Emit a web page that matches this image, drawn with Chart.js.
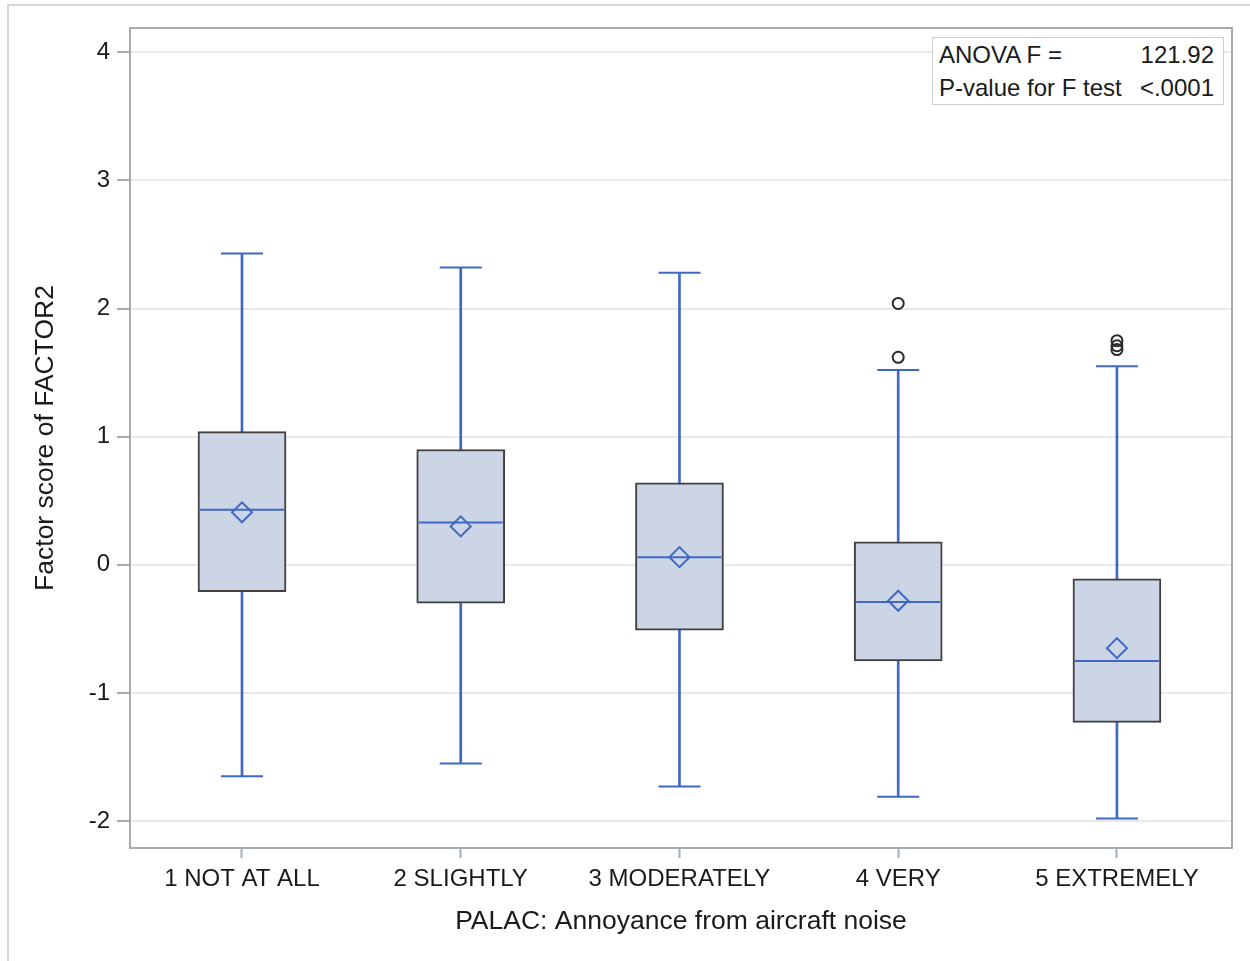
<!DOCTYPE html>
<html>
<head>
<meta charset="utf-8">
<script src="https://cdn.jsdelivr.net/npm/chart.js@4.4.1/dist/chart.umd.min.js"></script>
<style>
  body { margin: 0; background: #fff; font-family: "Liberation Sans", Arial, sans-serif; }
  #wrap { position: relative; width: 1250px; height: 961px; overflow: hidden; }
  #frame { position: absolute; left: 7px; top: 4px; width: 1400px; height: 1100px;
    border-top: 2px solid #d6d6d6; border-left: 2px solid #d6d6d6; }
  #inset { position: absolute; left: 932px; top: 37px; height: 66px;
    border: 1px solid #cfcfcf; background: #fff; font-size: 24px; color: #1a1a1a;
    padding: 0 9px 0 6px; box-sizing: content-box; width: 275px; }
  #inset div { display: flex; justify-content: space-between; line-height: 33px; height: 33px; }
  canvas { position: absolute; left: 0; top: 0; }
</style>
</head>
<body>
<div id="wrap">
  <div id="frame"></div>
  <canvas id="box-chart" width="1250" height="961"></canvas>
  <div id="inset">
    <div><span>ANOVA F =</span><span>121.92</span></div>
    <div><span>P-value for F test</span><span>&lt;.0001</span></div>
  </div>
</div>
<script>
// categories and box statistics
var categories = ["1 NOT AT ALL", "2 SLIGHTLY", "3 MODERATELY", "4 VERY", "5 EXTREMELY"];
var whiskerHigh = [2.43, 2.32, 2.28, 1.52, 1.55];
var q3 = [1.04, 0.90, 0.64, 0.18, -0.11];
var median = [0.43, 0.33, 0.06, -0.29, -0.75];
var mean = [0.41, 0.30, 0.06, -0.28, -0.65];
var q1 = [-0.21, -0.30, -0.51, -0.75, -1.23];
var whiskerLow = [-1.65, -1.55, -1.73, -1.81, -1.98];
// outliers
var outlierCats = ["4 VERY", "4 VERY", "5 EXTREMELY", "5 EXTREMELY", "5 EXTREMELY"];
var outlierValues = [2.04, 1.62, 1.75, 1.71, 1.68];
var yTicks = [-2, -1, 0, 1, 2, 3, 4];

var blue = "#3f68c6";
var axisGrey = "#a6abaf";
var font = "'Liberation Sans', Arial, sans-serif";

// x is the category index on a linear axis (so the margins match SAS)
function pts(values) {
  return values.map(function (v, i) { return { x: i, y: v }; });
}
var boxes = categories.map(function (c, i) { return { x: i, y: [q1[i], q3[i]] }; });
var whiskers = categories.map(function (c, i) { return { x: i, y: [whiskerLow[i], whiskerHigh[i]] }; });
var outliers = outlierCats.map(function (c, i) {
  return { x: categories.indexOf(c), y: outlierValues[i] };
});

// top + right edges of the plot frame
var framePlugin = {
  id: "frame",
  afterDraw: function (chart) {
    var a = chart.chartArea;
    var c = chart.ctx;
    c.save();
    c.strokeStyle = axisGrey;
    c.lineWidth = 2;
    c.strokeRect(a.left, a.top, a.right - a.left, a.bottom - a.top);
    c.restore();
  },
};

function noEdgePadding(scale) {
  scale.paddingTop = 0;
  scale.paddingBottom = 0;
  scale.paddingLeft = 0;
  scale.paddingRight = 0;
}

var ctx = document.getElementById("box-chart");
var chart = new Chart(ctx, {
  type: "bar",
  data: {
    datasets: [
      {
        label: "whisker",
        data: whiskers,
        backgroundColor: blue,
        barThickness: 2,
        grouped: false,
        order: 4,
      },
      {
        label: "box",
        data: boxes,
        backgroundColor: "#cbd5e6",
        borderColor: "#404040",
        borderWidth: 2,
        borderSkipped: false,
        barThickness: 88,
        grouped: false,
        order: 3,
      },
      {
        type: "line",
        label: "median",
        data: pts(median),
        showLine: false,
        pointStyle: "line",
        pointRadius: 42,
        borderColor: blue,
        pointBorderWidth: 2,
        order: 2,
      },
      {
        type: "line",
        label: "capHigh",
        data: pts(whiskerHigh),
        showLine: false,
        pointStyle: "line",
        pointRadius: 21,
        borderColor: blue,
        pointBorderWidth: 2,
        order: 2,
      },
      {
        type: "line",
        label: "capLow",
        data: pts(whiskerLow),
        showLine: false,
        pointStyle: "line",
        pointRadius: 21,
        borderColor: blue,
        pointBorderWidth: 2,
        order: 2,
      },
      {
        type: "line",
        label: "mean",
        data: pts(mean),
        showLine: false,
        pointStyle: "rectRot",
        pointRadius: 10,
        borderColor: blue,
        backgroundColor: "rgba(0,0,0,0)",
        pointBorderWidth: 2,
        order: 1,
      },
      {
        type: "line",
        label: "outliers",
        data: outliers,
        showLine: false,
        pointStyle: "circle",
        pointRadius: 5.5,
        borderColor: "#2b2b2b",
        backgroundColor: "rgba(0,0,0,0)",
        pointBorderWidth: 2,
        order: 0,
      },
    ],
  },
  options: {
    responsive: false,
    animation: false,
    events: [],
    layout: { autoPadding: false, padding: { top: 28, right: 18, left: 0, bottom: 0 } },
    plugins: {
      legend: { display: false },
      tooltip: { enabled: false },
    },
    scales: {
      x: {
        type: "linear",
        min: -0.512,
        max: 4.526,
        offset: false,
        afterFit: function (scale) {
          scale.height = 113;
          noEdgePadding(scale);
        },
        afterBuildTicks: function (scale) {
          scale.ticks = categories.map(function (c, i) { return { value: i }; });
        },
        grid: {
          offset: false,
          drawOnChartArea: false,
          drawTicks: true,
          tickLength: 10,
          tickColor: axisGrey,
          tickWidth: 2,
        },
        border: { color: axisGrey, width: 2 },
        ticks: {
          color: "#1a1a1a",
          font: { family: font, size: 24 },
          padding: 7,
          maxRotation: 0,
          autoSkip: false,
          callback: function (value) { return categories[value]; },
        },
        title: {
          display: true,
          text: "PALAC: Annoyance from aircraft noise",
          color: "#1a1a1a",
          font: { family: font, size: 26.5 },
          padding: { top: 0, bottom: 23 },
        },
      },
      y: {
        min: -2.21,
        max: 4.19,
        afterFit: function (scale) {
          scale.width = 130;
          noEdgePadding(scale);
        },
        afterBuildTicks: function (scale) {
          scale.ticks = yTicks.map(function (v) { return { value: v }; });
        },
        grid: {
          color: "#e9e9e9",
          lineWidth: 2,
          tickLength: 13,
          tickColor: axisGrey,
          tickWidth: 2,
        },
        border: { color: axisGrey, width: 2 },
        ticks: {
          color: "#1a1a1a",
          font: { family: font, size: 24 },
          padding: 7,
        },
        title: {
          display: true,
          text: "Factor score of FACTOR2",
          color: "#1a1a1a",
          font: { family: font, size: 26.5 },
          padding: { top: 30, bottom: 0 },
        },
      },
    },
  },
  plugins: [framePlugin],
});
</script>
</body>
</html>
